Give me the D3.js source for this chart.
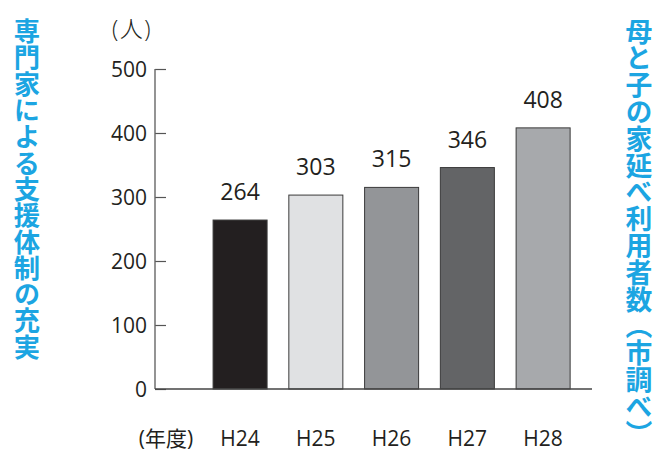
<!DOCTYPE html>
<html><head><meta charset="utf-8">
<script src="https://cdn.jsdelivr.net/npm/d3@7"></script>
<style>
html,body{margin:0;padding:0;background:#fff;}
svg{display:block;}
</style></head>
<body>
<script>
const categories = ["H24","H25","H26","H27","H28"];
const values = [264,303,315,346,408];
const barColors = ["#231f20","#e0e1e3","#939598","#636466","#a7a9ac"];
const yTicks = [0,100,200,300,400,500];
const leftTitle = "専門家による支援体制の充実";
const rightTitle = "母と子の家延べ利用者数（市調べ）";
const yUnit = "(人)";
const xUnit = "(年度)";

const W = 669, H = 461;
const svg = d3.select("body").append("svg").attr("width", W).attr("height", H);
const font = "'Open Sans', 'Noto Sans CJK JP', sans-serif";

const y = d3.scaleLinear().domain([0,500]).range([389,69]);
const x = d3.scaleBand().domain(categories).range([202.2,581]).paddingInner(0.287).paddingOuter(0.1435);
const axisX = 155, axisEnd = 592;

// bars
svg.append("g").selectAll("rect").data(values).join("rect")
  .attr("x", (d,i)=>x(categories[i]))
  .attr("y", d=>y(d))
  .attr("width", x.bandwidth())
  .attr("height", d=>y(0)-y(d))
  .attr("fill", (d,i)=>barColors[i])
  .attr("stroke", "#3a3a3a").attr("stroke-width", 1);

// y axis
const yAxis = d3.axisRight(y).tickValues(yTicks).tickSize(11).tickFormat("");
const ga = svg.append("g").attr("transform", `translate(${axisX},0)`).call(yAxis);
ga.select(".domain").remove();
ga.selectAll("line").attr("stroke","#555").attr("stroke-width",1.2);
svg.append("line").attr("x1",axisX).attr("x2",axisX).attr("y1",y(500)).attr("y2",y(0))
  .attr("stroke","#666").attr("stroke-width",1.4);
svg.append("line").attr("x1",axisX).attr("x2",axisEnd).attr("y1",y(0)).attr("y2",y(0))
  .attr("stroke","#444").attr("stroke-width",1.4);

// y tick labels
svg.append("g").selectAll("text").data(yTicks).join("text")
  .attr("x", axisX-8).attr("y", d=>y(d)+7.5)
  .attr("text-anchor","end")
  .attr("font-family", font).attr("font-size", 21).attr("fill","#231f20")
  .text(d=>d);

// unit
svg.append("text").attr("x",132).attr("y",37).attr("text-anchor","middle")
  .attr("font-family", font).attr("font-size", 23).attr("font-weight",300)
  .attr("letter-spacing",1.5).attr("fill","#231f20").text(yUnit);

// value labels
svg.append("g").selectAll("text").data(values).join("text")
  .attr("x",(d,i)=>x(categories[i])+x.bandwidth()/2)
  .attr("y", d=>y(d)-20)
  .attr("text-anchor","middle")
  .attr("font-family", font).attr("font-size", 23).attr("fill","#231f20")
  .text(d=>d);

// x labels
svg.append("g").selectAll("text").data(categories).join("text")
  .attr("x", d=>x(d)+x.bandwidth()/2).attr("y", 446)
  .attr("text-anchor","middle")
  .attr("font-family", font).attr("font-size", 21).attr("fill","#231f20")
  .text(d=>d);
svg.append("text").attr("x",166).attr("y",446).attr("text-anchor","middle")
  .attr("font-family", font).attr("font-size", 21).attr("fill","#231f20").text(xUnit);

// vertical titles
const cyan = "#1ca5e2";
svg.append("text").attr("x",27).attr("y",18)
  .style("writing-mode","vertical-rl")
  .attr("font-family","'Noto Sans CJK JP', sans-serif").attr("font-weight",700)
  .attr("font-size",26.3).attr("fill",cyan).text(leftTitle);
svg.append("text").attr("x",639).attr("y",18)
  .style("writing-mode","vertical-rl")
  .attr("font-family","'Noto Sans CJK JP', sans-serif").attr("font-weight",700)
  .attr("font-size",26.8).attr("fill",cyan).text(rightTitle);
</script>
</body></html>
